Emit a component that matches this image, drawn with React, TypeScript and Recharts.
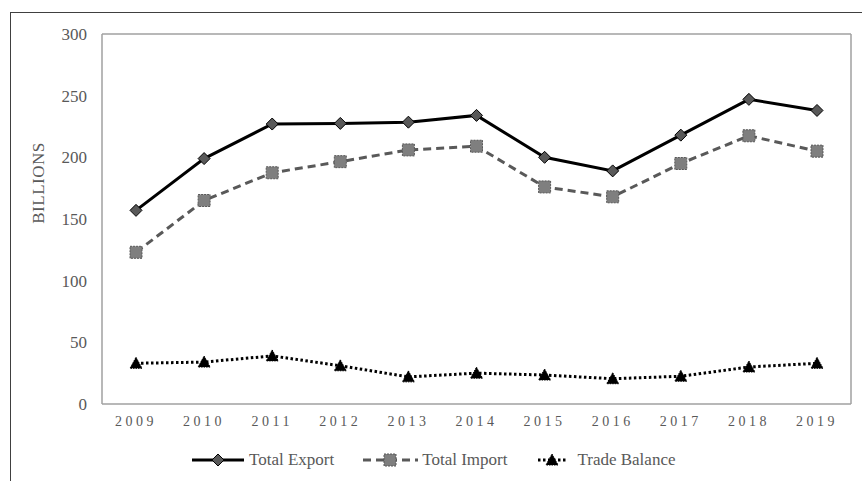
import React from "react";
import { LineChart, Line, XAxis, YAxis } from "recharts";

const years = ["2009", "2010", "2011", "2012", "2013", "2014", "2015", "2016", "2017", "2018", "2019"];
const totalExport = [157, 199, 227, 227.5, 228.5, 234, 200, 189, 218, 247, 238];
const totalImport = [123, 165, 187.5, 196.5, 206, 209, 176, 168, 195, 217.5, 205];
const tradeBalance = [33, 34, 39, 31, 22, 25, 23.5, 20.5, 22.5, 30, 33];
const yTicks = [0, 50, 100, 150, 200, 250, 300];

const FONT = '"Liberation Serif", "Times New Roman", serif';
const TEXT = "#595959";
const FRAME = "#a0a0a0";

var data: { year: string; exp: number; imp: number; bal: number }[] = [];
for (var i = 0; i < years.length; i++) {
  data.push({ year: years[i], exp: totalExport[i], imp: totalImport[i], bal: tradeBalance[i] });
}

function Diamond(props: any) {
  const { cx, cy } = props;
  if (cx == null || cy == null) return <g key={props.index} />;
  const s = 6;
  return (
    <path
      key={"d" + props.index}
      d={`M${cx},${cy - s} L${cx + s},${cy} L${cx},${cy + s} L${cx - s},${cy} Z`}
      fill="#595959"
      stroke="#000"
      strokeWidth={1}
    />
  );
}

function Square(props: any) {
  const { cx, cy } = props;
  if (cx == null || cy == null) return <g key={props.index} />;
  const s = 6;
  return (
    <rect
      key={"s" + props.index}
      x={cx - s}
      y={cy - s}
      width={s * 2}
      height={s * 2}
      fill="#7f7f7f"
      stroke="#595959"
      strokeWidth={1}
      strokeDasharray="2 1"
    />
  );
}

function Triangle(props: any) {
  const { cx, cy } = props;
  if (cx == null || cy == null) return <g key={props.index} />;
  const s = 6;
  return (
    <path
      key={"t" + props.index}
      d={`M${cx},${cy - s} L${cx + s},${cy + s - 1} L${cx - s},${cy + s - 1} Z`}
      fill="#000"
      stroke="#000"
      strokeWidth={1}
      strokeDasharray="1.5 1"
    />
  );
}

function YLabel(props: any) {
  const vb = props.viewBox;
  const x = 38;
  const y = vb.y + vb.height / 2 - 36;
  return (
    <text
      x={x}
      y={y}
      transform={`rotate(-90, ${x}, ${y})`}
      textAnchor="middle"
      dominantBaseline="central"
      fill={TEXT}
      fontSize={17}
      fontFamily={FONT}
      letterSpacing={0.5}
    >
      BILLIONS
    </text>
  );
}

function LegendRow() {
  return (
    <div
      style={{
        position: "absolute",
        left: 192,
        top: 448,
        display: "flex",
        alignItems: "center",
        fontFamily: FONT,
        fontSize: 17,
        color: TEXT,
        whiteSpace: "nowrap",
      }}
    >
      <svg width={52} height={24}>
        <line x1={0} y1={12} x2={52} y2={12} stroke="#000" strokeWidth={3} />
        <Diamond cx={26} cy={12} index={0} />
      </svg>
      <span style={{ marginLeft: 5, marginRight: 29 }}>Total Export</span>
      <svg width={55} height={24}>
        <line x1={0} y1={12} x2={55} y2={12} stroke="#595959" strokeWidth={3} strokeDasharray="8 5" />
        <Square cx={27} cy={12} index={0} />
      </svg>
      <span style={{ marginLeft: 4, marginRight: 30 }}>Total Import</span>
      <svg width={30} height={24}>
        <line x1={1} y1={12} x2={30} y2={12} stroke="#000" strokeWidth={3} strokeDasharray="2.5 2.5" />
        <Triangle cx={15} cy={12} index={0} />
      </svg>
      <span style={{ marginLeft: 10 }}>Trade Balance</span>
    </div>
  );
}

export default function App() {
  return (
    <div
      style={{
        position: "absolute",
        left: 0,
        top: 0,
        width: 862,
        height: 481,
        background: "#fff",
        overflow: "hidden",
      }}
    >
      <div
        style={{
          position: "absolute",
          left: 10,
          top: 12,
          width: 900,
          height: 500,
          borderTop: "1.5px solid #404040",
          borderLeft: "1.5px solid #404040",
        }}
      />
      <div style={{ position: "absolute", left: 0, top: 0 }}>
        <LineChart width={862} height={481} data={data} margin={{ top: 33, right: 10, bottom: 47, left: 0 }}>
          <XAxis
            dataKey="year"
            height={30}
            padding={{ left: 34, right: 34 }}
            axisLine={{ stroke: FRAME, strokeWidth: 1.5 }}
            tickLine={false}
            tickMargin={6}
            tick={{ fill: TEXT, fontSize: 14, fontFamily: FONT, letterSpacing: 3.5 }}
            interval={0}
          />
          <XAxis
            xAxisId="top"
            dataKey="year"
            orientation="top"
            height={1}
            padding={{ left: 34, right: 34 }}
            tick={false}
            tickLine={false}
            axisLine={{ stroke: FRAME, strokeWidth: 1.5 }}
          />
          <YAxis
            width={102}
            domain={[0, 300]}
            ticks={yTicks}
            interval={0}
            axisLine={{ stroke: FRAME, strokeWidth: 1.5 }}
            tickLine={false}
            tickMargin={9}
            tick={{ fill: TEXT, fontSize: 17, fontFamily: FONT }}
            label={<YLabel />}
          />
          <YAxis
            yAxisId="right"
            orientation="right"
            width={1}
            domain={[0, 300]}
            tick={false}
            tickLine={false}
            axisLine={{ stroke: FRAME, strokeWidth: 1.5 }}
          />
          <Line
            dataKey="bal"
            stroke="#000"
            strokeWidth={3}
            strokeDasharray="2.5 2.5"
            dot={Triangle}
            activeDot={false}
            isAnimationActive={false}
          />
          <Line
            dataKey="imp"
            stroke="#595959"
            strokeWidth={3}
            strokeDasharray="8 5"
            dot={Square}
            activeDot={false}
            isAnimationActive={false}
          />
          <Line
            dataKey="exp"
            stroke="#000"
            strokeWidth={3}
            dot={Diamond}
            activeDot={false}
            isAnimationActive={false}
          />
        </LineChart>
      </div>
      <LegendRow />
    </div>
  );
}
